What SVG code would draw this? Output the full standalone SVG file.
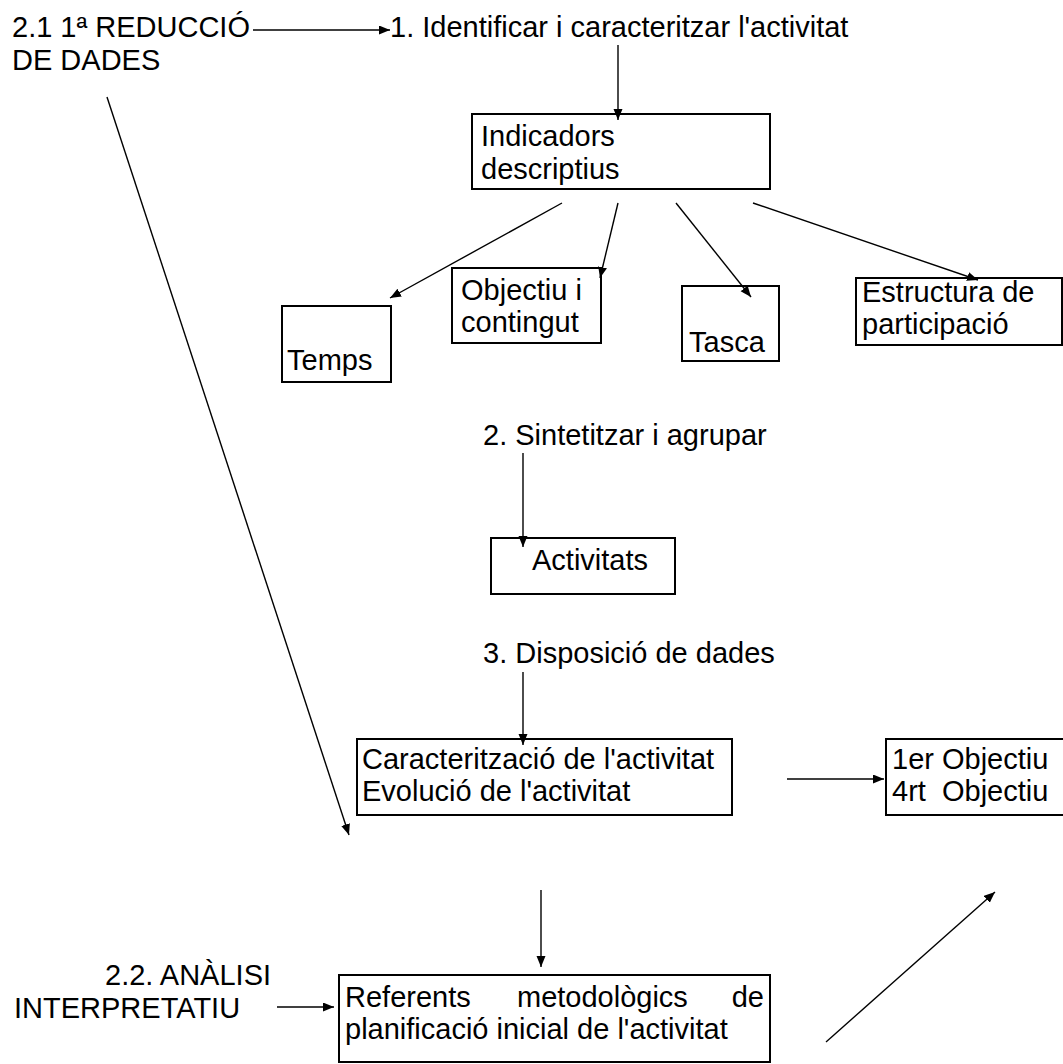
<svg xmlns="http://www.w3.org/2000/svg" width="1063" height="1064" viewBox="0 0 1063 1064">
<style>
text{font-family:"Liberation Sans",Arial,sans-serif;font-size:29px;fill:#000}
.box{fill:#fff;stroke:#000;stroke-width:2}
.con{stroke:#000;stroke-width:1.4;fill:none;marker-end:url(#ah)}
</style>
<defs>
<marker id="ah" markerUnits="userSpaceOnUse" markerWidth="12" markerHeight="10" refX="11" refY="4.5" orient="auto">
<path d="M0,0 L11,4.5 L0,9 z" fill="#000"/>
</marker>
</defs>
<rect width="1063" height="1064" fill="#fff"/>
<g id="reduccio"><text x="12" y="37">2.1 1ª REDUCCIÓ</text><text x="12" y="70">DE DADES</text></g>
<g id="identificar"><text x="390" y="37">1. Identificar i caracteritzar l'activitat</text></g>
<g id="indicadors"><rect class="box" x="472" y="114" width="298" height="75"/><text x="481" y="146">Indicadors</text><text x="481" y="179">descriptius</text></g>
<g id="temps"><rect class="box" x="282" y="306" width="109" height="76"/><text x="287" y="370">Temps</text></g>
<g id="objectiu"><rect class="box" x="452" y="268" width="149" height="75"/><text x="461" y="300">Objectiu i</text><text x="461" y="332">contingut</text></g>
<g id="tasca"><rect class="box" x="682" y="286" width="97" height="75"/><text x="689" y="352">Tasca</text></g>
<g id="estructura"><rect class="box" x="856" y="278" width="206" height="67"/><text x="862" y="302">Estructura de</text><text x="862" y="334">participació</text></g>
<g id="sintetitzar"><text x="483" y="445">2. Sintetitzar i agrupar</text></g>
<g id="activitats"><rect class="box" x="491" y="538" width="184" height="56"/><text x="532" y="570">Activitats</text></g>
<g id="disposicio"><text x="483" y="663">3. Disposició de dades</text></g>
<g id="caracteritzacio"><rect class="box" x="357" y="739" width="375" height="76"/><text x="362" y="769">Caracterització de l'activitat</text><text x="362" y="801">Evolució de l'activitat</text></g>
<g id="objectius"><rect class="box" x="886" y="739" width="200" height="76"/><text x="892" y="769">1er Objectiu</text><text x="892" y="801" xml:space="preserve">4rt  Objectiu</text></g>
<g id="analisi"><text x="105" y="985">2.2. ANÀLISI</text><text x="14" y="1018">INTERPRETATIU</text></g>
<g id="referents"><rect class="box" x="339" y="975" width="431" height="87"/><text y="1007"><tspan x="345">Referents</tspan><tspan x="517">metodològics</tspan><tspan x="764" text-anchor="end">de</tspan></text><text x="345" y="1039">planificació inicial de l'activitat</text></g>
<g id="connectors">
<line class="con" x1="253" y1="30" x2="390" y2="30"/>
<line class="con" x1="618" y1="45" x2="618" y2="120"/>
<line class="con" x1="562" y1="203" x2="390" y2="298"/>
<line class="con" x1="618" y1="203" x2="600" y2="278"/>
<line class="con" x1="676" y1="203" x2="751" y2="297"/>
<line class="con" x1="753" y1="203" x2="978" y2="280"/>
<line class="con" x1="523" y1="453" x2="523" y2="547"/>
<line class="con" x1="523" y1="672" x2="523" y2="745"/>
<line class="con" x1="107" y1="97" x2="349" y2="835"/>
<line class="con" x1="787" y1="779" x2="884" y2="779"/>
<line class="con" x1="541" y1="890" x2="541" y2="967"/>
<line class="con" x1="277" y1="1007" x2="334" y2="1007"/>
<line class="con" x1="826" y1="1042" x2="995" y2="892"/>
</g>
</svg>
